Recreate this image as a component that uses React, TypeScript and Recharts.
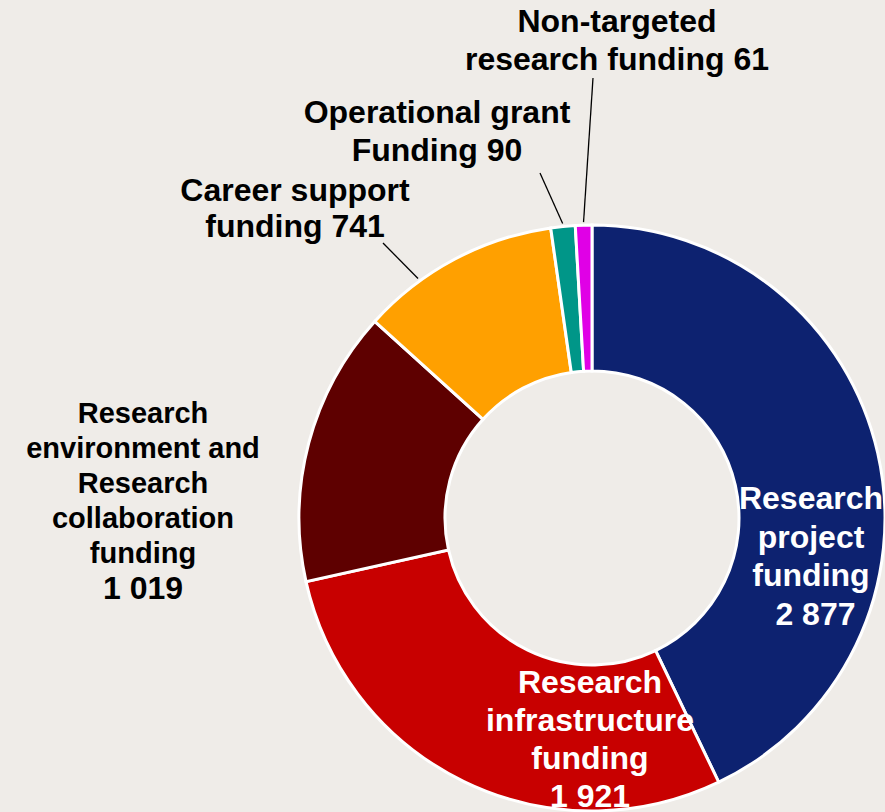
import React from 'react';
import { PieChart, Pie, Cell } from 'recharts';

const categories = [
  'Research project funding',
  'Research infrastructure funding',
  'Research environment and Research collaboration funding',
  'Career support funding',
  'Operational grant Funding',
  'Non-targeted research funding',
];
const values = [2877, 1921, 1019, 741, 90, 61];
const valueLabels = ['2 877', '1 921', '1 019', '741', '90', '61'];
const colors = ['#0D2270', '#C80000', '#5E0000', '#FFA000', '#009688', '#E000E6'];
const labelLines: string[][] = [
  ['Research', 'project', 'funding', ' 2 877'],
  ['Research', 'infrastructure', 'funding', '1 921'],
  ['Research', 'environment and', 'Research', 'collaboration', 'funding', '1 019'],
  ['Career support', 'funding 741'],
  ['Operational grant', 'Funding 90'],
  ['Non-targeted', 'research funding 61'],
];

const data = categories.map((name, i) => ({ name, value: values[i], label: valueLabels[i] }));

// label layout (offsets from the pie centre)
const labelLayout = [
  { dx: 219, dy: -20, step: 38.5, fill: '#FFFFFF', size: 32 },
  { dx: -2, dy: 164, step: 38, fill: '#FFFFFF', size: 32 },
  { dx: -449, dy: -105, step: 35, fill: '#000000', size: 29, lastSize: 32 },
  { dx: -297, dy: -328, step: 36, fill: '#000000', size: 32, lineAngle: 126, lineEnd: [-209, -275] },
  { dx: -155, dy: -406, step: 38, fill: '#000000', size: 32, lineEnd: [-52, -345] },
  { dx: 25, dy: -497, step: 38, fill: '#000000', size: 32, lineEnd: [1, -440] },
];

const RAD = Math.PI / 180;

const renderLabel = (props: any) => {
  const { cx, cy, midAngle, outerRadius, index } = props;
  const cfg: any = labelLayout[index];
  const lines = labelLines[index];
  let leader = null;
  if (cfg.lineEnd) {
    const ang = cfg.lineAngle !== undefined ? cfg.lineAngle : midAngle;
    const r = outerRadius + 3;
    const x1 = cx + r * Math.cos(-ang * RAD);
    const y1 = cy + r * Math.sin(-ang * RAD);
    leader = (
      <line x1={x1} y1={y1} x2={cx + cfg.lineEnd[0]} y2={cy + cfg.lineEnd[1]} stroke="#000" strokeWidth={1.3} />
    );
  }
  return (
    <g key={`lbl-${index}`}>
      {leader}
      <text
        x={cx + cfg.dx}
        y={cy + cfg.dy}
        fill={cfg.fill}
        textAnchor="middle"
        fontFamily="'Liberation Sans', Arial, sans-serif"
        fontWeight="bold"
        fontSize={cfg.size}
      >
        {lines.map((l, i) => (
          <tspan
            key={i}
            x={cx + cfg.dx}
            y={cy + cfg.dy + i * cfg.step}
            dominantBaseline="central"
            fontSize={i === lines.length - 1 && cfg.lastSize ? cfg.lastSize : cfg.size}
          >
            {l}
          </tspan>
        ))}
      </text>
    </g>
  );
};

export default function App() {
  return (
    <div style={{ position: 'absolute', left: 0, top: 0, width: 885, height: 812, background: '#EFECE8', overflow: 'hidden' }}>
      <PieChart width={885} height={812} margin={{ top: 0, right: 0, bottom: 0, left: 0 }}>
        <Pie
          data={data}
          dataKey="value"
          nameKey="name"
          cx={592}
          cy={518}
          innerRadius={147}
          outerRadius={293}
          startAngle={90}
          endAngle={-270}
          stroke="#FFFFFF"
          strokeWidth={3}
          label={renderLabel}
          labelLine={false}
          isAnimationActive={false}
        >
          {data.map((d, i) => (
            <Cell key={d.name} fill={colors[i]} />
          ))}
        </Pie>
      </PieChart>
    </div>
  );
}
